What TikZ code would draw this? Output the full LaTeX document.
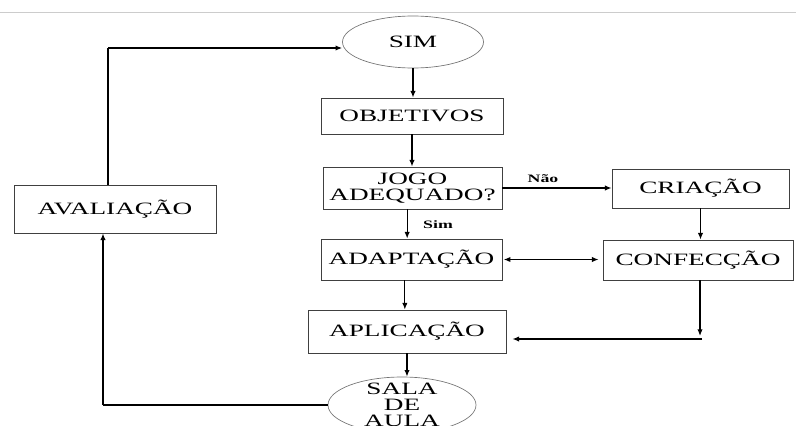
\documentclass[tikz,border=0pt]{standalone}
\usepackage{fontspec}
\setmainfont{Liberation Serif}
\usetikzlibrary{arrows.meta,shapes.geometric}
\newcommand{\wide}[1]{\scalebox{1.57}[1]{#1}}

\tikzset{
  caixa/.style={draw=black!75, line width=0.6pt, inner sep=0pt, align=center, font=\fontsize{13}{12}\selectfont},
  elipse/.style={ellipse, draw=black!55, line width=0.5pt, inner sep=0pt},
  texto/.style={align=center, font=\fontsize{13}{12}\selectfont},
  seta/.style={-{Latex[length=5pt,width=4pt]}, line width=0.9pt},
  rotulo/.style={font=\bfseries\fontsize{8.5}{9}\selectfont}
}

\begin{document}
\begin{tikzpicture}[x=0.75pt,y=0.75pt,yscale=-1,xscale=1]
\useasboundingbox (0,0) rectangle (796,425);

%top rule
\draw [black!20, line width=0.6pt] (0,12) -- (796,12);

%ellipses
\node [elipse, minimum width=105.75pt, minimum height=39pt] (sim) at (413,42) {};
\node [texto] at (sim) {\wide{SIM}};
\node [elipse, minimum width=111pt, minimum height=42pt] (sala) at (402,405) {};
\node [texto] at (sala) {\wide{SALA}\\\wide{DE}\\\wide{AULA}};

%boxes
\node [caixa, minimum width=136.5pt, minimum height=27pt] (obj) at (412,116) {\wide{OBJETIVOS}};
\node [caixa, minimum width=134.25pt, minimum height=31.5pt] (jogo) at (412.5,188) {\wide{JOGO}\\\wide{ADEQUADO?}};
\node [caixa, minimum width=135.75pt, minimum height=30.75pt] (adapt) at (411.5,259.5) {\wide{ADAPTAÇÃO}};
\node [caixa, minimum width=148.5pt, minimum height=32.25pt] (aplic) at (407,331.5) {\wide{APLICAÇÃO}};
\node [caixa, minimum width=132.75pt, minimum height=29.25pt] (cria) at (700.5,188.5) {\wide{CRIAÇÃO}};
\node [caixa, minimum width=142.5pt, minimum height=30pt] (confec) at (698,260) {\wide{CONFECÇÃO}};
\node [caixa, minimum width=151.5pt, minimum height=36pt] (aval) at (115,209) {\wide{AVALIAÇÃO}};

%labels
\node [rotulo] (nao) at (543,179) {\wide{Não}};
\node [rotulo] (sim2) at (438,225) {\wide{Sim}};

%free ends
\coordinate (cd) at (700,336);
\coordinate (ch) at (702,339);
\coordinate (lb) at (103,405);
\coordinate (lt) at (108,48);

%main column
\draw [seta] (sim.south) -- (sim.south |- obj.north);
\draw [seta] (obj.south) -- (obj.south |- jogo.north);
\draw [seta] ([xshift=-4pt]jogo.south) -- ([xshift=-4pt]jogo.south |- adapt.north);
\draw [seta] ([xshift=-5pt]adapt.south) -- ([xshift=-5pt]adapt.south |- aplic.north);
\draw [seta] (aplic.south) -- (aplic.south |- sala.north);

%right side
\draw [seta] (jogo.east) -- (jogo.east -| cria.west);
\draw [seta] (cria.south) -- (cria.south |- confec.north);
\draw [{Latex[length=5pt,width=4pt]}-{Latex[length=5pt,width=4pt]}, line width=0.9pt] ([xshift=1pt]adapt.east) -- ([xshift=-3pt]adapt.east -| confec.west);
\draw [seta] (confec.south -| cd) -- (cd);
\draw [seta] (ch) -- ([xshift=4.5pt]aplic.east |- ch);

%loop back
\draw [line width=0.9pt] (sala.west) -- (lb);
\draw [seta] (lb) -- (lb |- aval.south);
\draw [line width=0.9pt] (lt |- aval.north) -- (lt);
\draw [seta] (lt) -- (sim.west |- lt);

\end{tikzpicture}
\end{document}
